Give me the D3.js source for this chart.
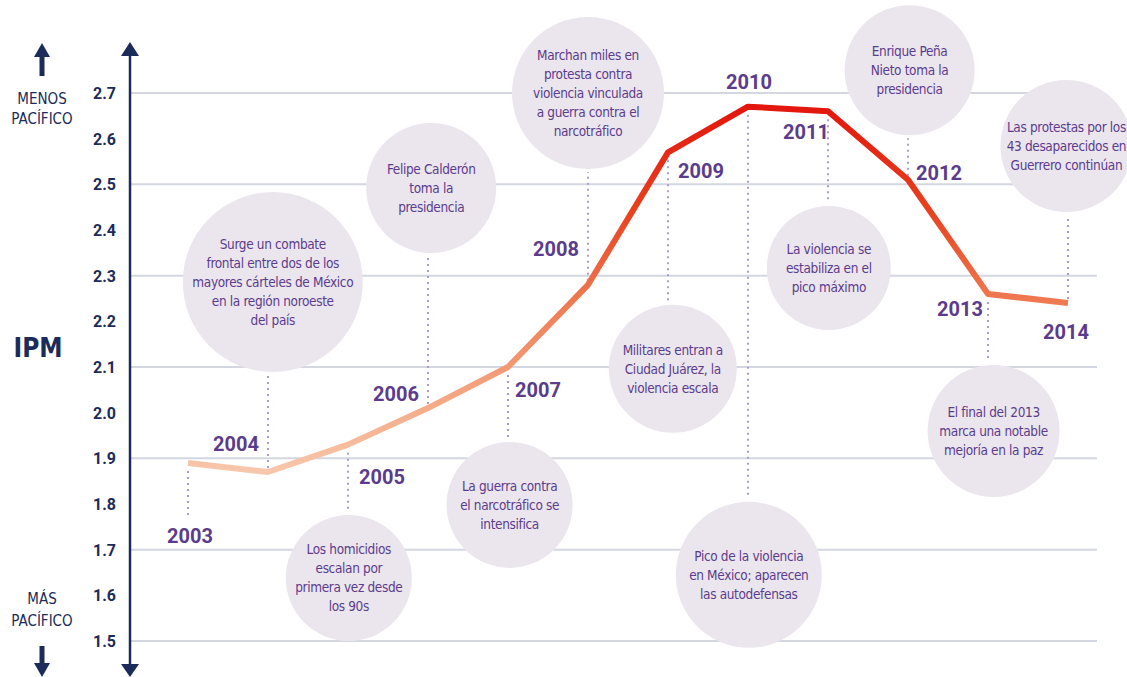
<!DOCTYPE html>
<html>
<head>
<meta charset="utf-8">
<script src="https://cdn.jsdelivr.net/npm/d3@7"></script>
<style>
	body { margin: 0; background: #fff; }
	svg { display: block; }
	.narrow { font-family: "Liberation Sans Narrow", "DejaVu Sans Condensed", "Roboto", sans-serif; }
	.num { font-family: "Roboto", "DejaVu Sans Condensed", sans-serif; font-weight: bold; }
</style>
</head>
<body>
<div id="chart"></div>
<script>
// IPM por año
var years = [2003, 2004, 2005, 2006, 2007, 2008, 2009, 2010, 2011, 2012, 2013, 2014];
var ipm = [1.89, 1.87, 1.93, 2.01, 2.10, 2.28, 2.57, 2.67, 2.66, 2.51, 2.26, 2.24];

var yTicks = [2.7, 2.6, 2.5, 2.4, 2.3, 2.2, 2.1, 2.0, 1.9, 1.8, 1.7, 1.6, 1.5];
var gridTicks = [2.7, 2.5, 2.3, 2.1, 1.9, 1.7, 1.5];

// texto de cada evento (null = sin burbuja)
var events = [
	null,
	["Surge un combate", "frontal entre dos de los", "mayores cárteles de México", "en la región noroeste", "del país"],
	["Los homicidios", "escalan por", "primera vez desde", "los 90s"],
	["Felipe Calderón", "toma la", "presidencia"],
	["La guerra contra", "el narcotráfico se", "intensifica"],
	["Marchan miles en", "protesta contra", "violencia vinculada", "a guerra contra el", "narcotráfico"],
	["Militares entran a", "Ciudad Juárez, la", "violencia escala"],
	["Pico de la violencia", "en México; aparecen", "las autodefensas"],
	["La violencia se", "estabiliza en el", "pico máximo"],
	["Enrique Peña", "Nieto toma la", "presidencia"],
	["El final del 2013", "marca una notable", "mejoría en la paz"],
	["Las protestas por los", "43 desaparecidos en", "Guerrero continúan"]
];

// layout: bubble centre in data units (year offset, ipm) and radius in px
var bubbleLayout = [
	null,
	{dx: 0.06, v: 2.286, r: 90},
	{dx: 0.01, v: 1.638, r: 63},
	{dx: 0.04, v: 2.492, r: 65},
	{dx: 0.02, v: 1.798, r: 63},
	{dx: 0.00, v: 2.70, r: 76},
	{dx: 0.06, v: 2.096, r: 64},
	{dx: 0.01, v: 1.645, r: 73},
	{dx: 0.01, v: 2.317, r: 62},
	{dx: 0.02, v: 2.75, r: 65},
	{dx: 0.07, v: 1.960, r: 66},
	{dx: -0.02, v: 2.584, r: 66}
];

// year label offsets from the point, px
var labelOffset = [
	[2, 73], [-32, -28], [34, 32], [-32, -14], [30, 23], [-32, -36],
	[33, 19], [1, -25], [-22, 21], [31, -7], [-28, 15], [-2, 29]
];

var W = 1127, H = 677;
var navy = "#1c2c5a", purple = "#5b3c8c";

var svg = d3.select("#chart").append("svg")
	.attr("width", W)
	.attr("height", H);

var x = d3.scaleLinear().domain([2003, 2014]).range([188, 1068]);
var y = d3.scaleLinear().domain([1.5, 2.7]).range([641, 93]);

// gradient along y: pale peach at the bottom, red at the top
var defs = svg.append("defs");
var grad = defs.append("linearGradient")
	.attr("id", "lineGrad")
	.attr("gradientUnits", "userSpaceOnUse")
	.attr("x1", 0).attr("x2", 0)
	.attr("y1", y(2.7)).attr("y2", y(1.85));
grad.selectAll("stop")
	.data([[0, "#e2110b"], [0.3, "#e8401f"], [0.55, "#ef7d55"], [0.8, "#f4aa86"], [1, "#f8cbb0"]])
	.join("stop")
	.attr("offset", d => d[0])
	.attr("stop-color", d => d[1]);

// gridlines
svg.append("g")
	.selectAll("line")
	.data(gridTicks)
	.join("line")
	.attr("x1", 130).attr("x2", 1097)
	.attr("y1", d => y(d)).attr("y2", d => y(d))
	.attr("stroke", "#d4d7e2")
	.attr("stroke-width", 2);

// leader lines (dotted)
var leaders = svg.append("g")
	.attr("stroke", "#ad9ccb")
	.attr("stroke-width", 2)
	.attr("stroke-dasharray", "2,4");

years.forEach(function(yr, i) {
	var px = x(yr), py = y(ipm[i]);
	var b = bubbleLayout[i];
	var y1, y2;
	if (b == null) {
		y1 = py + 8; y2 = py + 56;
	} else {
		var cy = y(b.v);
		if (cy < py) { y1 = py - 4; y2 = cy + b.r + 3; }
		else { y1 = py + 8; y2 = cy - b.r - 3; }
	}
	leaders.append("line")
		.attr("x1", px).attr("x2", px)
		.attr("y1", y1).attr("y2", y2);
});

// bubbles
var bubbles = svg.append("g")
	.selectAll("g")
	.data(years.map((yr, i) => ({year: yr, text: events[i], lay: bubbleLayout[i]})).filter(d => d.lay))
	.join("g")
	.attr("transform", d => "translate(" + x(d.year + d.lay.dx) + "," + y(d.lay.v) + ")");

bubbles.append("circle")
	.attr("r", d => d.lay.r)
	.attr("fill", "#ebe6ee");

bubbles.append("text")
	.attr("class", "narrow")
	.attr("text-anchor", "middle")
	.attr("fill", purple)
	.style("font-size", "13.5px")
	.style("letter-spacing", "-0.35px")
	.selectAll("tspan")
	.data(d => d.text.map((t, k) => ({t: t, k: k, n: d.text.length})))
	.join("tspan")
	.attr("x", 0)
	.attr("y", d => (d.k - (d.n - 1) / 2) * 19 + 5)
	.text(d => d.t);

// the IPM line
var line = d3.line()
	.x((d, i) => x(years[i]))
	.y(d => y(d));

svg.append("path")
	.datum(ipm)
	.attr("d", line)
	.attr("fill", "none")
	.attr("stroke", "url(#lineGrad)")
	.attr("stroke-width", 6)
	.attr("stroke-linejoin", "round");

// year labels
svg.append("g")
	.selectAll("text")
	.data(years)
	.join("text")
	.attr("class", "num")
	.attr("text-anchor", "middle")
	.attr("fill", purple)
	.style("font-size", "20px")
	.attr("x", (d, i) => x(d) + labelOffset[i][0])
	.attr("y", (d, i) => y(ipm[i]) + labelOffset[i][1] + 7)
	.text(d => d);

// y axis with arrows both ends
var axisG = svg.append("g");
axisG.append("line")
	.attr("x1", 130).attr("x2", 130)
	.attr("y1", 52).attr("y2", 668)
	.attr("stroke", navy)
	.attr("stroke-width", 2.5);
axisG.append("path")
	.attr("d", "M121,56 L130,42 L139,56 Z")
	.attr("fill", navy);
axisG.append("path")
	.attr("d", "M121,664 L130,677 L139,664 Z")
	.attr("fill", navy);

axisG.selectAll("text")
	.data(yTicks)
	.join("text")
	.attr("class", "num")
	.attr("text-anchor", "end")
	.attr("fill", navy)
	.style("font-size", "16px")
	.attr("x", 116)
	.attr("y", d => y(d) + 6)
	.text(d => d.toFixed(1));

// left side labels
var side = svg.append("g").attr("fill", navy);
side.append("rect").attr("x", 39.5).attr("y", 52).attr("width", 5).attr("height", 24);
side.append("path").attr("d", "M34,57 L42,43 L50,57 Z");
side.append("rect").attr("x", 39.5).attr("y", 646).attr("width", 5).attr("height", 22);
side.append("path").attr("d", "M34,663 L42,677 L50,663 Z");

side.selectAll(".lab")
	.data([["MENOS", 104], ["PACÍFICO", 124], ["MÁS", 604], ["PACÍFICO", 626]])
	.join("text")
	.attr("class", "narrow lab")
	.attr("text-anchor", "middle")
	.style("font-size", "15px")
	.attr("x", 42)
	.attr("y", d => d[1])
	.text(d => d[0]);

side.append("text")
	.attr("class", "narrow")
	.attr("text-anchor", "middle")
	.style("font-size", "26px")
	.style("font-weight", "bold")
	.attr("x", 38)
	.attr("y", 357)
	.text("IPM");
</script>
</body>
</html>
